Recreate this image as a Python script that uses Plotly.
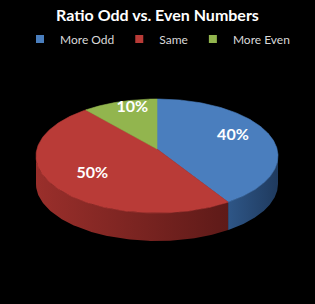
import numpy as np
import plotly.graph_objects as go

# ---- data ----
categories = ["More Odd", "Same", "More Even"]
values = [40, 50, 10]
top_colors = ["#4A7EBE", "#B93B37", "#92B54E"]
side_colors = [["#2E5687", "#1F3A5E"], ["#9A2F2B", "#5E1A18"], ["#6E8A38", "#4E6327"]]

# ---- geometry (pixel-like axis units) ----
W, H = 315, 304
CX, CY = 157, 156      # ellipse centre
APEX_DY = -7           # perspective: apex above ellipse centre
RX, RY = 121, 57
DEPTH = 28
START = 90.0  # degrees, clockwise

total = float(sum(values))
fig = go.Figure()

def pt(theta_deg, dy=0.0):
    t = np.radians(theta_deg)
    return CX + RX * np.cos(t), CY - RY * np.sin(t) + dy

angles = []
a = START
for v in values:
    sweep = 360.0 * v / total
    angles.append((a, a - sweep))
    a -= sweep

# side walls (visible where sin(theta) <= 0)
for (a0, a1), cat, sc in zip(angles, categories, side_colors):
    lo, hi = min(a0, a1), max(a0, a1)
    segs = []
    for k in (-360, 0, 360):
        s0, s1 = max(lo, -180 + k), min(hi, 0 + k)
        if s1 > s0:
            segs.append((s0, s1))
    for s0, s1 in segs:
        th = np.linspace(s0, s1, 120)
        xs_t, ys_t = pt(th)
        xs_b, ys_b = pt(th[::-1], DEPTH)
        xs = np.concatenate([xs_t, xs_b, xs_t[:1]])
        ys = np.concatenate([ys_t, ys_b, ys_t[:1]])
        fig.add_trace(go.Scatter(
            x=xs, y=ys, mode="lines", fill="toself",
            line=dict(width=0, color=sc[0]),
            fillgradient=dict(type="horizontal",
                              colorscale=[[0, sc[0]], [1, sc[1]]]),
            showlegend=False, hoverinfo="skip"))

# top faces
for (a0, a1), cat, col in zip(angles, categories, top_colors):
    th = np.linspace(a0, a1, 200)
    xs_a, ys_a = pt(th)
    xs = np.concatenate([[CX], xs_a, [CX]])
    ys = np.concatenate([[CY + APEX_DY], ys_a, [CY + APEX_DY]])
    fig.add_trace(go.Scatter(
        x=xs, y=ys, mode="lines", fill="toself", fillcolor=col,
        line=dict(width=0.6, color=col), name=cat,
        showlegend=False, hoverinfo="name"))

# legend entries (square swatches)
for cat, col in zip(categories, top_colors):
    fig.add_trace(go.Scatter(
        x=[None], y=[None], mode="markers", name=cat,
        marker=dict(symbol="square", size=8, color=col,
                    line=dict(width=0))))

# labels
lx, ly, lt = [], [], []
for (a0, a1), v in zip(angles, values):
    mid = (a0 + a1) / 2.0
    t = np.radians(mid)
    lx.append(CX + 0.66 * RX * np.cos(t))
    ly.append(CY + APEX_DY - 0.75 * RY * np.sin(t))
    lt.append(f"{round(100 * v / total)}%")
fig.add_trace(go.Scatter(
    x=lx, y=ly, mode="text", text=lt,
    textfont=dict(family="Lato", size=16, color="white", weight="bold"),
    showlegend=False, hoverinfo="skip"))

fig.update_layout(
    width=W, height=H,
    margin=dict(l=0, r=0, t=0, b=0),
    paper_bgcolor="black", plot_bgcolor="black",
    title=dict(text="<b>Ratio Odd vs. Even Numbers</b>",
               x=0.5, xanchor="center", y=1 - 15 / H, yanchor="middle",
               font=dict(family="Lato", size=16, color="white")),
    legend=dict(orientation="h", x=0.5, xanchor="center",
                y=1 - 39 / H, yanchor="middle",
                font=dict(family="Lato", size=12, color="#D9D9D9"),
                bgcolor="rgba(0,0,0,0)", itemwidth=30,
                traceorder="normal"),
    xaxis=dict(range=[0, W], visible=False, fixedrange=True),
    yaxis=dict(range=[H, 0], visible=False, fixedrange=True),
    showlegend=True,
)

fig.write_html("out.html")
